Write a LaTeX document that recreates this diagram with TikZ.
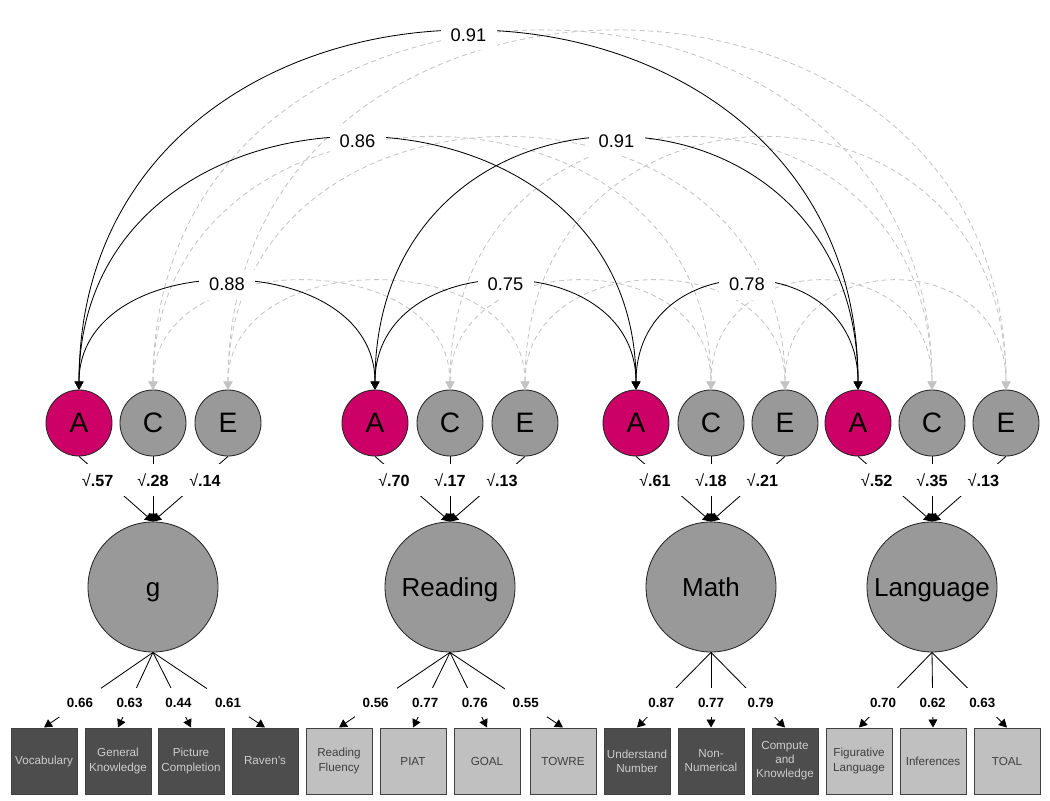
\documentclass[tikz,border=0pt]{standalone}
\usepackage{fontspec}
\setmainfont{Liberation Sans}
\usetikzlibrary{arrows.meta}

\definecolor{addred}{RGB}{204,0,102}
\definecolor{latgray}{RGB}{153,153,153}
\definecolor{obsdark}{RGB}{77,77,77}
\definecolor{obslight}{RGB}{192,192,192}
\definecolor{corrgray}{RGB}{196,196,196}

\tikzset{
  ace/.style={circle, draw=black!85, line width=0.6pt, fill=latgray,
    minimum size=16.5mm, inner sep=0pt, font=\fontsize{20}{20}\selectfont},
  latent/.style={circle, draw=black!85, line width=0.6pt, fill=latgray,
    minimum size=32.5mm, inner sep=0pt, text height=16pt, text depth=2pt,
    font=\fontsize{18.5}{20}\selectfont},
  obs/.style={rectangle, draw=black!75, line width=0.7pt,
    minimum width=16.5mm, minimum height=16.5mm, inner sep=1pt,
    align=center, font=\fontsize{8.3}{10}\selectfont},
  obsd/.style={obs, fill=obsdark, text=black!20},
  obsl/.style={obs, fill=obslight, text=black!75},
  corrA/.style={{Triangle[length=2mm,width=2.2mm]}-{Triangle[length=2mm,width=2.2mm]},
    line width=0.6pt, draw=black},
  corrCE/.style={corrA, draw=corrgray, dash pattern=on 1.25mm off 0.9mm},
  rlbl/.style={fill=white, inner sep=0pt, minimum width=14mm,
    minimum height=7.5mm, font=\fontsize{13}{13}\selectfont},
  vlbl/.style={fill=white, inner sep=0pt, minimum width=14mm,
    minimum height=8mm, font=\fontsize{11.5}{11.5}\selectfont},
  llbl/.style={fill=white, inner sep=0pt, minimum width=10.5mm,
    minimum height=7.25mm, font=\bfseries\fontsize{9.5}{10}\selectfont}
}

\begin{document}
\begin{tikzpicture}[x=0.25mm, y=0.25mm,
    >={Triangle[length=2mm,width=2.2mm]}, line width=0.6pt]
  \useasboundingbox (0,0) rectangle (1050,800);

  % A, C, E for each domain
  \foreach \grp/\xa/\xc/\xe in {1/79/153/228, 2/375/450/525,
                                3/636/711/785, 4/858/932/1006} {
    \node[ace, fill=addred] (A\grp) at (\xa,377) {A};
    \node[ace] (C\grp) at (\xc,377) {C};
    \node[ace] (E\grp) at (\xe,377) {E};
  }

  % domains
  \node[latent] (F1) at (153,213) {g};
  \node[latent] (F2) at (450,213) {Reading};
  \node[latent] (F3) at (711,213) {Math};
  \node[latent] (F4) at (932,213) {Language};

  % measures
  \foreach \num/\xm/\st/\txt in {1/44/obsd/Vocabulary,
      2/118/obsd/{General\\Knowledge}, 3/191/obsd/{Picture\\Completion},
      4/265/obsd/Raven's, 5/339/obsl/{Reading\\Fluency}, 6/413/obsl/PIAT,
      7/487/obsl/GOAL, 8/563/obsl/TOWRE, 9/637/obsd/{Understand\\Number},
      10/711/obsd/{Non-\\Numerical}, 11/785/obsd/{Compute\\and\\Knowledge},
      12/859/obsl/{Figurative\\Language}, 13/933/obsl/Inferences,
      14/1007/obsl/TOAL}
    \node[\st] (M\num) at (\xm,39) {\txt};

  % loadings
  \foreach \fa/\num/\lv in {1/1/0.66, 1/2/0.63, 1/3/0.44, 1/4/0.61,
      2/5/0.56, 2/6/0.77, 2/7/0.76, 2/8/0.55, 3/9/0.87, 3/10/0.77,
      3/11/0.79, 4/12/0.70, 4/13/0.62, 4/14/0.63}
    \draw[->] (F\fa.south) -- node[llbl, pos=0.67] {\lv} (M\num.north);

  % variance components
  \foreach \grp/\va/\vc/\ve in {1/.57/.28/.14, 2/.70/.17/.13,
                                3/.61/.18/.21, 4/.52/.35/.13} {
    \draw[->] (A\grp.south) -- node[vlbl, pos=0.36, xshift=-2mm] {√\textbf{\va}} (F\grp.north);
    \draw[->] (C\grp.south) -- node[vlbl, pos=0.36] {√\textbf{\vc}} (F\grp.north);
    \draw[->] (E\grp.south) -- node[vlbl, pos=0.36, xshift=1mm] {√\textbf{\ve}} (F\grp.north);
  }

  % C and E correlations
  \foreach \i/\j/\hc in {1/2/144, 2/3/144, 3/4/144, 1/3/335, 2/4/335, 1/4/477} {
    \draw[corrCE] (C\i.north) .. controls +(0,\hc) and +(0,\hc) .. (C\j.north);
    \draw[corrCE] (E\i.north) .. controls +(0,\hc) and +(0,\hc) .. (E\j.north);
  }

  % A correlations
  \foreach \i/\j/\hc/\rv in {1/2/144/0.88, 2/3/144/0.75, 3/4/144/0.78,
                             1/3/335/0.86, 2/4/335/0.91, 1/4/477/0.91}
    \draw[corrA] (A\i.north) .. controls +(0,\hc) and +(0,\hc) .. (A\j.north)
      node[rlbl, pos=0.5, yshift=-0.75mm] {\rv};
\end{tikzpicture}
\end{document}
